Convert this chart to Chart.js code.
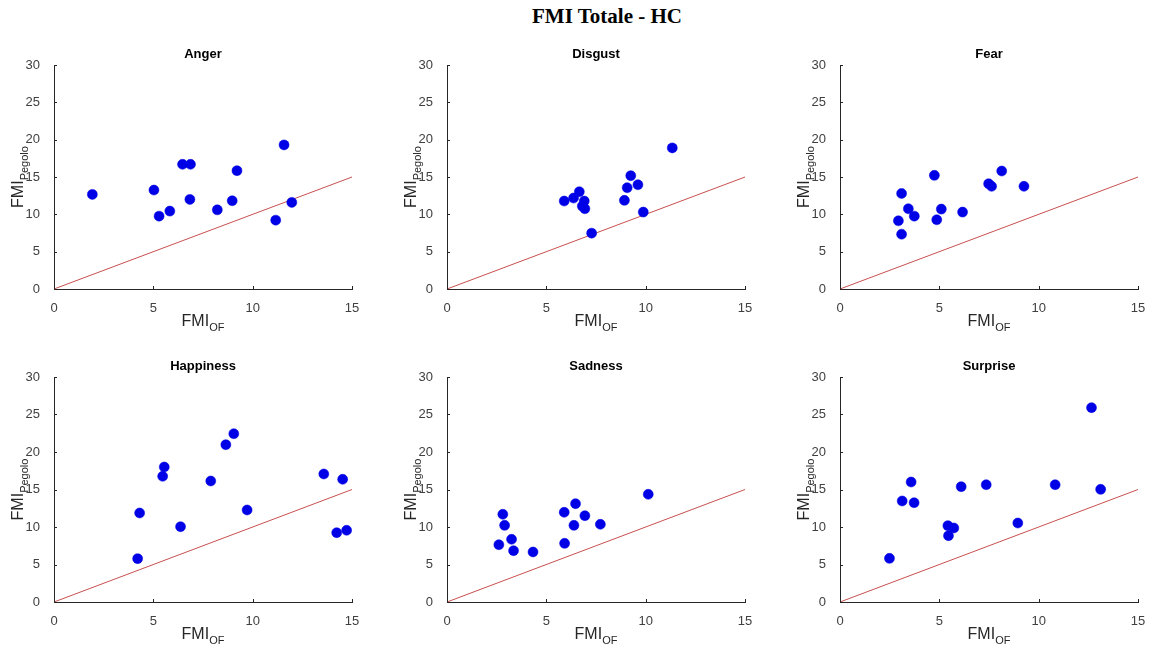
<!DOCTYPE html>
<html>
<head>
<meta charset="utf-8">
<script src="https://cdn.jsdelivr.net/npm/chart.js@4.4.1/dist/chart.umd.min.js"></script>
<style>
    body { margin: 0; background: #fff; width: 1149px; height: 647px; position: relative; overflow: hidden; }
    #titolo { position: absolute; top: 6px; left: 407px; width: 400px; text-align: center;
              font: bold 21px "Liberation Serif", "Times New Roman", serif; line-height: 21px; color: #000; }
    .pannello { position: absolute; }
</style>
</head>
<body>
<div id="titolo">FMI Totale - HC</div>

<script>
// valori (FMI_OF, FMI_Pegolo)
const categorie = ['Anger', 'Disgust', 'Fear', 'Happiness', 'Sadness', 'Surprise'];

const angerX = [1.93, 5.03, 5.29, 5.83, 6.47, 6.87, 6.84, 8.22, 8.97, 9.21, 11.16, 11.58, 11.97];
const angerY = [12.67, 13.25, 9.76, 10.43, 16.7, 16.7, 12.0, 10.6, 11.82, 15.85, 9.22, 19.3, 11.6];

const disgustX = [5.9, 6.37, 6.66, 6.91, 6.81, 6.94, 7.28, 8.93, 9.07, 9.25, 9.61, 9.88, 11.34];
const disgustY = [11.78, 12.18, 13.03, 11.78, 11.1, 10.75, 7.48, 11.87, 13.57, 15.18, 13.97, 10.3, 18.9];

const fearX = [2.94, 3.1, 3.1, 3.44, 3.74, 4.75, 4.87, 5.1, 6.17, 7.48, 7.63, 8.14, 9.26];
const fearY = [9.13, 12.8, 7.34, 10.75, 9.76, 15.22, 9.27, 10.7, 10.3, 14.1, 13.75, 15.8, 13.75];

const happinessX = [4.21, 4.31, 5.47, 5.55, 7.89, 6.37, 8.65, 9.05, 9.72, 13.58, 14.53, 14.23, 14.73];
const happinessY = [5.78, 11.87, 16.76, 18.0, 16.13, 10.04, 20.98, 22.44, 12.27, 17.07, 16.36, 9.24, 9.56];

const sadnessX = [2.61, 2.81, 2.9, 3.25, 3.35, 4.33, 5.9, 5.92, 6.39, 6.47, 6.94, 7.72, 10.13];
const sadnessY = [7.64, 11.69, 10.22, 8.36, 6.84, 6.67, 11.96, 7.82, 10.22, 13.11, 11.51, 10.36, 14.36];

const surpriseX = [2.49, 3.13, 3.58, 3.73, 5.43, 5.46, 5.73, 6.1, 7.36, 8.95, 10.83, 12.66, 13.12];
const surpriseY = [5.82, 13.47, 16.0, 13.24, 10.18, 8.84, 9.87, 15.38, 15.64, 10.53, 15.64, 25.91, 15.02];

const serieX = [angerX, disgustX, fearX, happinessX, sadnessX, surpriseX];
const serieY = [angerY, disgustY, fearY, happinessY, sadnessY, surpriseY];

// bisettrice y = x
const diagonaleX = [0, 15];
const diagonaleY = [0, 15];

const tickX = [0, 5, 10, 15];
const tickY = [0, 5, 10, 15, 20, 25, 30];

// posizione delle aree di disegno nella pagina
const colonne = [54, 447.3, 839.5];
const righe = [{ top: 65, h: 224 }, { top: 376.7, h: 225 }];
const LARG = 298, SIN = 54, DES = 12, SOPRA = 25, SOTTO = 48;

const FONT = '"Liberation Sans", Arial, sans-serif';

function testoConPedice(ctx, base, pedice, cx, y) {
    ctx.font = '16px ' + FONT;
    const w1 = ctx.measureText(base).width;
    ctx.font = '11px ' + FONT;
    const w2 = ctx.measureText(pedice).width;
    const x0 = cx - (w1 + w2) / 2;
    ctx.textAlign = 'left';
    ctx.textBaseline = 'alphabetic';
    ctx.font = '16px ' + FONT;
    ctx.fillText(base, x0, y);
    ctx.font = '11px ' + FONT;
    ctx.fillText(pedice, x0 + w1, y + 5);
}

function decorazioni(titolo) {
    return {
        id: 'decorazioni',
        afterDraw(chart) {
            const { ctx, chartArea: a, scales: { x, y } } = chart;
            ctx.save();
            ctx.strokeStyle = '#262626';
            ctx.lineWidth = 1;
            // tacche verso l'interno
            x.ticks.forEach(t => {
                const px = Math.round(x.getPixelForValue(t.value)) + 0.5;
                ctx.beginPath();
                ctx.moveTo(px, a.bottom);
                ctx.lineTo(px, a.bottom - 3);
                ctx.stroke();
            });
            y.ticks.forEach(t => {
                const py = Math.round(y.getPixelForValue(t.value)) + 0.5;
                ctx.beginPath();
                ctx.moveTo(a.left, py);
                ctx.lineTo(a.left + 3, py);
                ctx.stroke();
            });

            ctx.fillStyle = '#000';
            ctx.font = 'bold 13px ' + FONT;
            ctx.textAlign = 'center';
            ctx.textBaseline = 'middle';
            ctx.fillText(titolo, (a.left + a.right) / 2, a.top - 11);

            ctx.fillStyle = '#262626';
            testoConPedice(ctx, 'FMI', 'OF', (a.left + a.right) / 2, a.bottom + 37);

            ctx.translate(a.left - 31, (a.top + a.bottom) / 2);
            ctx.rotate(-Math.PI / 2);
            testoConPedice(ctx, 'FMI', 'Pegolo', 0, 0);
            ctx.restore();
        }
    };
}

categorie.forEach((nome, i) => {
    const col = colonne[i % 3];
    const riga = righe[Math.floor(i / 3)];

    const div = document.createElement('div');
    div.className = 'pannello';
    div.style.left = (col - SIN) + 'px';
    div.style.top = (riga.top - SOPRA) + 'px';
    const canvas = document.createElement('canvas');
    const w = SIN + LARG + DES, h = SOPRA + riga.h + SOTTO;
    canvas.width = w;
    canvas.height = h;
    canvas.style.width = w + 'px';
    canvas.style.height = h + 'px';
    div.appendChild(canvas);
    document.body.appendChild(div);

    const punti = serieX[i].map((v, k) => ({ x: v, y: serieY[i][k] }));
    const diagonale = diagonaleX.map((v, k) => ({ x: v, y: diagonaleY[k] }));

    new Chart(canvas.getContext('2d'), {
        type: 'scatter',
        data: {
            datasets: [{
                label: 'y = x',
                data: diagonale,
                showLine: true,
                borderColor: '#c8504f',
                borderWidth: 1,
                pointRadius: 0,
                order: 2
            }, {
                label: nome,
                data: punti,
                backgroundColor: '#0000e6',
                borderColor: '#0000e6',
                borderWidth: 0.5,
                pointRadius: 5,
                order: 1
            }]
        },
        options: {
            responsive: false,
            animation: false,
            devicePixelRatio: 1,
            layout: { padding: { left: 0, top: SOPRA, right: DES, bottom: 0 } },
            plugins: { legend: { display: false }, tooltip: { enabled: false } },
            scales: {
                x: {
                    type: 'linear', min: 0, max: 15,
                    afterBuildTicks: s => { s.ticks = tickX.map(v => ({ value: v })); },
                    afterFit: s => { s.height = SOTTO; },
                    grid: { display: false },
                    border: { display: true, color: '#262626', width: 1 },
                    ticks: { padding: 4, color: '#404040', font: { family: FONT, size: 13 }, maxRotation: 0 }
                },
                y: {
                    type: 'linear', min: 0, max: 30,
                    afterBuildTicks: s => { s.ticks = tickY.map(v => ({ value: v })); },
                    afterFit: s => { s.width = SIN; },
                    grid: { display: false },
                    border: { display: true, color: '#262626', width: 1 },
                    ticks: { padding: 6, color: '#404040', font: { family: FONT, size: 13 } }
                }
            }
        },
        plugins: [decorazioni(nome)]
    });
});
</script>
</body>
</html>
